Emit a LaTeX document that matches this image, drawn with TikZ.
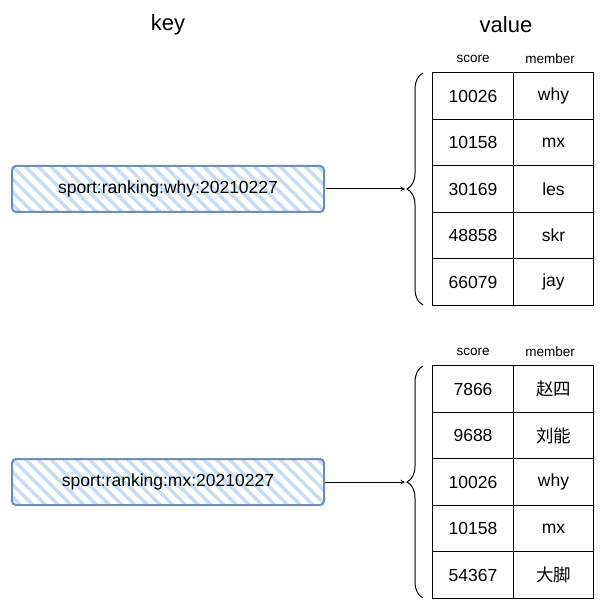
\documentclass[tikz,border=0pt]{standalone}
\usepackage{fontspec}
\setmainfont{Liberation Sans}
\newfontfamily\cjk{Noto Sans CJK SC}
\usetikzlibrary{patterns.meta, decorations.pathreplacing, arrows}
\definecolor{keyline}{HTML}{6C8EBF}
\definecolor{keyhatch}{HTML}{C9DCF6}
\tikzstyle{title} = [font=\fontsize{22}{26}\selectfont]
\tikzstyle{keybox} = [rectangle, rounded corners=4pt, minimum width=312pt, minimum height=46pt, text centered, draw=keyline, line width=2pt, pattern={Lines[angle=-45, distance=9pt, line width=3.5pt]}, pattern color=keyhatch, font=\fontsize{17.5}{20}\selectfont]
\tikzstyle{cell} = [rectangle, draw, line width=1pt, minimum width=80.5pt, minimum height=46.5pt, text centered, font=\fontsize{17.5}{20}\selectfont]
\tikzstyle{head} = [font=\fontsize{13.5}{16}\selectfont]
\tikzstyle{brace} = [line width=1pt, decorate, decoration={brace, amplitude=16pt}]
\tikzstyle{arrow} = [line width=1pt, ->, >=stealth]

\begin{document}
\begin{tikzpicture}[x=1pt, y=-1pt]
            \useasboundingbox (0,0) rectangle (605,612);
            \node [title] at (168,25) (keytitle) {key};
            \node [title] at (506,25) (valuetitle) {value};

            % first key
            \node [keybox] at (168,189) (key1) {sport:ranking:why:20210227};
            \node [head] at (473,59) (score1) {score};
            \node [head] at (550,59) (member1) {member};
            \node [cell] at (473,96) (s11) {10026};
            \node [cell] at (553.5,96) (m11) {why};
            \node [cell] at (473,142.5) (s12) {10158};
            \node [cell] at (553.5,142.5) (m12) {mx};
            \node [cell] at (473,189) (s13) {30169};
            \node [cell] at (553.5,189) (m13) {les};
            \node [cell] at (473,235.5) (s14) {48858};
            \node [cell] at (553.5,235.5) (m14) {skr};
            \node [cell] at (473,282) (s15) {66079};
            \node [cell] at (553.5,282) (m15) {jay};
            \draw [brace] (423,305) -- (423,73);
            \coordinate (tip1) at (405,189);
            \draw [arrow] (key1) -- (tip1);

            % second key
            \node [keybox] at (168,482) (key2) {sport:ranking:mx:20210227};
            \node [head] at (473,352) (score2) {score};
            \node [head] at (550,352) (member2) {member};
            \node [cell] at (473,389) (s21) {7866};
            \node [cell] at (553.5,389) (m21) {\cjk 赵四};
            \node [cell] at (473,435.5) (s22) {9688};
            \node [cell] at (553.5,435.5) (m22) {\cjk 刘能};
            \node [cell] at (473,482) (s23) {10026};
            \node [cell] at (553.5,482) (m23) {why};
            \node [cell] at (473,528.5) (s24) {10158};
            \node [cell] at (553.5,528.5) (m24) {mx};
            \node [cell] at (473,575) (s25) {54367};
            \node [cell] at (553.5,575) (m25) {\cjk 大脚};
            \draw [brace] (423,598) -- (423,366);
            \coordinate (tip2) at (405,482);
            \draw [arrow] (key2) -- (tip2);
\end{tikzpicture}
\end{document}
